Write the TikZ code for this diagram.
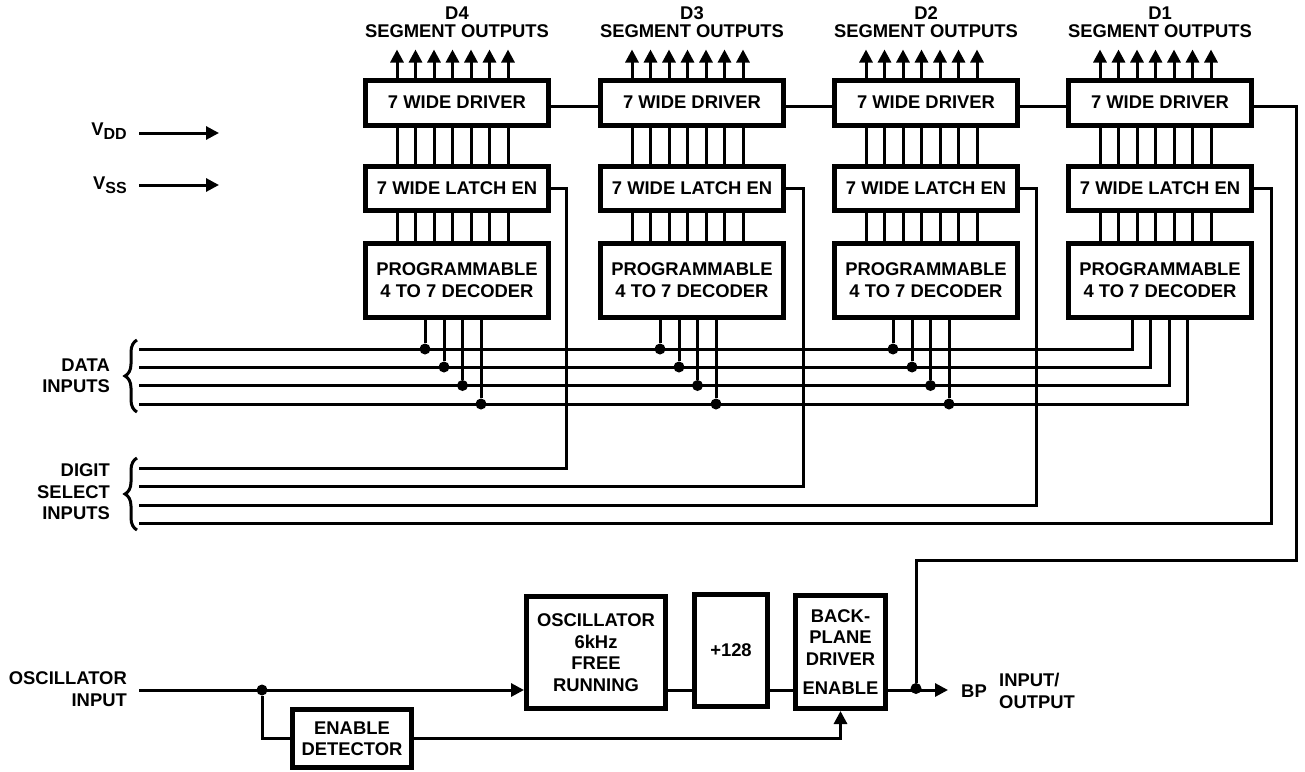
\documentclass[tikz,border=0pt]{standalone}
\usepackage{fontspec}
\setmainfont{Liberation Sans}
\usetikzlibrary{arrows.meta,decorations.pathreplacing}

\tikzset{
  blockbox/.style={draw,line width=5pt,align=center,inner sep=0pt,font=\fontsize{18.4}{21.5}\selectfont\bfseries},
  widebox/.style={blockbox,minimum width=183pt},
  wire/.style={line width=3pt},
  arrowwire/.style={wire,-{Triangle[length=13pt,width=13pt]}},
  junction/.style={circle,fill,inner sep=0pt,minimum size=11pt},
  lbl/.style={align=right,inner sep=0pt,font=\fontsize{18.4}{21.5}\selectfont\bfseries},
  bracket/.style={line width=3pt,decorate,decoration={brace,mirror,amplitude=12pt}}
}

\begin{document}
\begin{tikzpicture}[x=1pt,y=-1pt]
\useasboundingbox (0,0) rectangle (1305,771);

% the four digit columns
\foreach \col/\xc in {4/457,3/692,2/926,1/1160}{
  \node[widebox,minimum height=45pt] (drv\col) at (\xc,102.5) {7 WIDE DRIVER};
  \node[widebox,minimum height=44pt] (lat\col) at (\xc,188.5) {7 WIDE LATCH EN};
  \node[widebox,minimum height=74pt] (dec\col) at (\xc,280) {PROGRAMMABLE\\4 TO 7 DECODER};
  \node[lbl,align=center,font=\fontsize{18.4}{18}\selectfont\bfseries] (head\col) at (\xc,22) {D\col\\SEGMENT OUTPUTS};
  \foreach \i in {0,...,6}{
    \coordinate (out\col\i) at ([xshift=34pt+18.5pt*\i,yshift=28pt]drv\col.north west);
    \draw[arrowwire] ([xshift=34pt+18.5pt*\i]drv\col.north west) -- (out\col\i);
    \draw[wire] ([xshift=34pt+18.5pt*\i]drv\col.south west) -- ([xshift=34pt+18.5pt*\i]lat\col.north west);
    \draw[wire] ([xshift=34pt+18.5pt*\i]lat\col.south west) -- ([xshift=34pt+18.5pt*\i]dec\col.north west);
  }
}

% driver chain
\draw[wire] ([yshift=-3.5pt]drv4.east) -- ([yshift=-3.5pt]drv3.west);
\draw[wire] ([yshift=-3.5pt]drv3.east) -- ([yshift=-3.5pt]drv2.west);
\draw[wire] ([yshift=-3.5pt]drv2.east) -- ([yshift=-3.5pt]drv1.west);

% data bus
\foreach \i/\yy in {1/349,2/367,3/385.5,4/404}{
  \coordinate (dat\i) at (139,\yy);
}
\foreach \col/\a/\b/\c/\d in {4/425/444/462.5/481,3/660/679/697.5/716,2/893/912/930.5/949,1/1132/1150.5/1169/1187.5}{
  \coordinate (tap\col1) at (\a,320);
  \coordinate (tap\col2) at (\b,320);
  \coordinate (tap\col3) at (\c,320);
  \coordinate (tap\col4) at (\d,320);
}
\foreach \i in {1,...,4}{
  \draw[wire] (dat\i) -| (tap1\i);
  \foreach \col in {4,3,2}{
    \node[junction] (dot\col\i) at (tap\col\i |- dat\i) {};
    \draw[wire] (tap\col\i) -- (dot\col\i);
  }
}

% digit select
\foreach \col/\i/\xe/\yy in {4/1/566/468,3/2/803/486,2/3/1036/505,1/4/1271/523}{
  \coordinate (dig\i) at (139,\yy);
  \coordinate (en\col) at (\xe,\yy);
  \draw[wire] (lat\col.east) -| (en\col) -- (dig\i);
}

% input labels
\draw[bracket] (137,340) -- (137,412);
\draw[bracket] (137,458) -- (137,530);
\node[lbl,anchor=east] (datalbl) at (110,376) {DATA\\INPUTS};
\node[lbl,anchor=east] (diglbl) at (110,492) {DIGIT\\SELECT\\INPUTS};
\node[lbl,anchor=east] (vdd) at (127,131) {V\raisebox{-4pt}{\fontsize{16}{16}\selectfont DD}};
\node[lbl,anchor=east] (vss) at (127,185) {V\raisebox{-4pt}{\fontsize{16}{16}\selectfont SS}};
\coordinate (vddin) at (139,133);
\coordinate (vddend) at (219,133);
\coordinate (vssin) at (139,185);
\coordinate (vssend) at (219,185);
\draw[arrowwire] (vddin) -- (vddend);
\draw[arrowwire] (vssin) -- (vssend);

% oscillator row
\coordinate (rail) at (0,690);
\node[lbl,anchor=east] (osclbl) at (127,689) {OSCILLATOR\\INPUT};
\node[blockbox,minimum width=139pt,minimum height=112pt] (osc) at (596,652.5) {OSCILLATOR\\6kHz\\FREE\\RUNNING};
\node[blockbox,minimum width=73pt,minimum height=112pt] (div) at (731,650.5) {+128};
\node[blockbox,minimum width=90pt,minimum height=113pt] (back) at (840.5,652) {BACK-\\PLANE\\DRIVER\\[8pt]ENABLE};
\node[blockbox,minimum width=119pt,minimum height=58pt] (det) at (352,738.5) {ENABLE\\DETECTOR};
\coordinate (oscin) at (139,690);
\coordinate (bpend) at (948,690);
\node[junction] (split) at (262,690) {};
\node[junction] (bpdot) at (916,688.5) {};
\draw[arrowwire] (oscin) -- (osc.west |- rail);
\draw[wire] (split) |- (det.west);
\draw[arrowwire] (det.east) -| (back.south);
\draw[wire] (osc.east |- rail) -- (div.west |- rail);
\draw[wire] (div.east |- rail) -- (back.west |- rail);
\draw[arrowwire] (back.east |- rail) -- (bpend);
\coordinate (topright) at (1296,560);
\draw[wire] ([yshift=-3.5pt]drv1.east) -| (topright) -| (bpdot);
\node[lbl,anchor=west] (bp) at (961,691) {BP};
\node[lbl,anchor=west,align=left] (iolbl) at (999,691) {INPUT/\\OUTPUT};
\end{tikzpicture}
\end{document}
